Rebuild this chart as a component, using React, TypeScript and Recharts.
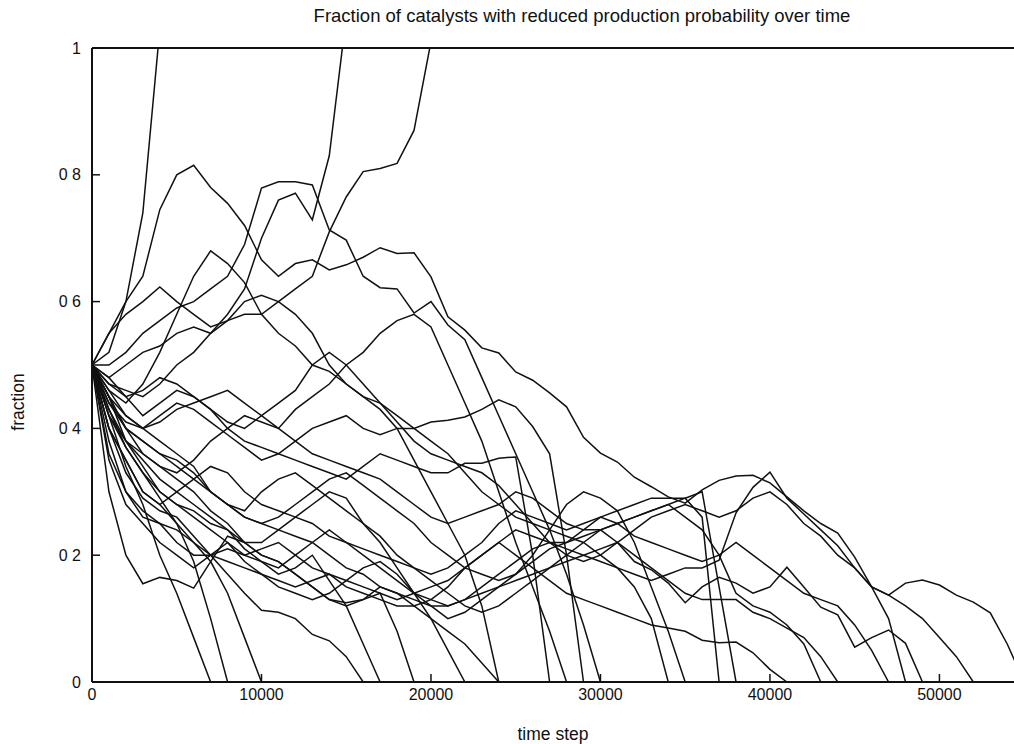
import { LineChart, Line, XAxis, YAxis } from "recharts";

// fraction sampled every 1000 time steps, each run stops when it hits 0 (or leaves the top)
const stepSize = 1000;

const runA = [0.5, 0.52, 0.6, 0.74, 1.03];
const runC = [0.5, 0.47, 0.46, 0.45, 0.47, 0.5, 0.52, 0.55, 0.58, 0.62, 0.7, 0.76, 0.771, 0.729, 0.83, 1.05];
const runD = [0.5, 0.48, 0.5, 0.52, 0.53, 0.55, 0.56, 0.55, 0.57, 0.58, 0.58, 0.6, 0.62, 0.64, 0.71, 0.765, 0.805, 0.81, 0.818, 0.87, 1.01];
const runLong = [
  0.5, 0.55, 0.6, 0.64, 0.745, 0.8, 0.815, 0.78, 0.755, 0.72, 0.666, 0.64, 0.66, 0.666, 0.65, 0.658, 0.67, 0.685,
  0.676, 0.677, 0.639, 0.576, 0.555, 0.527, 0.519, 0.489, 0.476, 0.456, 0.434, 0.386, 0.361, 0.347, 0.323, 0.308,
  0.292, 0.282, 0.303, 0.318, 0.325, 0.326, 0.314, 0.292, 0.27, 0.25, 0.235, 0.197, 0.15, 0.137, 0.156, 0.161,
  0.153, 0.137, 0.126, 0.109, 0.06, 0,
];
const runHump = [
  0.5, 0.5, 0.52, 0.55, 0.57, 0.59, 0.6, 0.62, 0.64, 0.69, 0.779, 0.789, 0.789, 0.784, 0.713, 0.697, 0.64, 0.622,
  0.62, 0.582, 0.6, 0.563, 0.54, 0.48, 0.42, 0.36, 0.3, 0.24, 0.17, 0.09, 0,
];
const run07 = [0.5, 0.42, 0.34, 0.28, 0.2, 0.14, 0.07, 0];
const run08 = [0.5, 0.43, 0.37, 0.33, 0.29, 0.25, 0.19, 0.1, 0];
const run10 = [0.5, 0.4, 0.35, 0.3, 0.28, 0.25, 0.22, 0.19, 0.14, 0.07, 0];
const run16 = [0.5, 0.4, 0.33, 0.29, 0.27, 0.26, 0.23, 0.2, 0.17, 0.14, 0.113, 0.11, 0.1, 0.075, 0.065, 0.04, 0];
const run17 = [0.5, 0.38, 0.3, 0.26, 0.25, 0.22, 0.2, 0.2, 0.21, 0.2, 0.19, 0.17, 0.18, 0.2, 0.16, 0.12, 0.06, 0];
const run19 = [0.5, 0.3, 0.2, 0.155, 0.165, 0.16, 0.148, 0.19, 0.23, 0.22, 0.2, 0.19, 0.17, 0.15, 0.13, 0.125, 0.13, 0.14, 0.08, 0];
const run22 = [0.5, 0.45, 0.38, 0.34, 0.3, 0.28, 0.27, 0.25, 0.24, 0.22, 0.22, 0.24, 0.26, 0.28, 0.3, 0.29, 0.25, 0.22, 0.18, 0.14, 0.1, 0.05, 0];
const run24a = [0.5, 0.55, 0.58, 0.6, 0.623, 0.6, 0.58, 0.56, 0.57, 0.6, 0.61, 0.6, 0.58, 0.55, 0.5, 0.47, 0.45, 0.43, 0.4, 0.35, 0.3, 0.25, 0.2, 0.12, 0];
const run24b = [0.5, 0.42, 0.38, 0.36, 0.34, 0.32, 0.3, 0.27, 0.25, 0.22, 0.2, 0.19, 0.17, 0.15, 0.13, 0.12, 0.13, 0.15, 0.14, 0.12, 0.1, 0.08, 0.06, 0.03, 0];
const run27 = [0.5, 0.48, 0.45, 0.42, 0.44, 0.46, 0.45, 0.43, 0.4, 0.38, 0.37, 0.36, 0.35, 0.34, 0.33, 0.32, 0.34, 0.36, 0.35, 0.34, 0.33, 0.33, 0.345, 0.345, 0.353, 0.355, 0.2, 0];
const run28 = [0.5, 0.45, 0.4, 0.36, 0.34, 0.33, 0.35, 0.38, 0.4, 0.42, 0.41, 0.4, 0.43, 0.45, 0.47, 0.5, 0.52, 0.55, 0.57, 0.58, 0.56, 0.5, 0.44, 0.38, 0.3, 0.22, 0.15, 0.08, 0];
const run29 = [0.5, 0.44, 0.41, 0.4, 0.42, 0.44, 0.43, 0.41, 0.39, 0.37, 0.35, 0.36, 0.38, 0.4, 0.41, 0.42, 0.4, 0.39, 0.4, 0.4, 0.41, 0.413, 0.418, 0.43, 0.445, 0.434, 0.403, 0.36, 0.2, 0];
const run34 = [0.5, 0.46, 0.44, 0.47, 0.52, 0.58, 0.64, 0.68, 0.66, 0.63, 0.58, 0.55, 0.53, 0.5, 0.49, 0.47, 0.45, 0.44, 0.42, 0.4, 0.38, 0.36, 0.33, 0.3, 0.28, 0.26, 0.25, 0.24, 0.23, 0.22, 0.2, 0.18, 0.15, 0.1, 0];
const run35 = [0.5, 0.35, 0.28, 0.25, 0.22, 0.2, 0.18, 0.2, 0.22, 0.19, 0.17, 0.15, 0.14, 0.13, 0.14, 0.16, 0.18, 0.19, 0.17, 0.14, 0.12, 0.1, 0.11, 0.13, 0.15, 0.17, 0.2, 0.24, 0.28, 0.3, 0.29, 0.27, 0.22, 0.15, 0.08, 0];
const run37 = [0.5, 0.44, 0.4, 0.38, 0.36, 0.35, 0.33, 0.3, 0.28, 0.27, 0.3, 0.32, 0.33, 0.31, 0.29, 0.27, 0.25, 0.23, 0.2, 0.18, 0.16, 0.14, 0.12, 0.11, 0.12, 0.14, 0.16, 0.18, 0.2, 0.22, 0.24, 0.25, 0.26, 0.27, 0.28, 0.29, 0.26, 0];
const run38 = [0.5, 0.4, 0.35, 0.3, 0.28, 0.3, 0.32, 0.34, 0.33, 0.3, 0.28, 0.27, 0.26, 0.25, 0.23, 0.22, 0.21, 0.2, 0.19, 0.18, 0.17, 0.18, 0.2, 0.22, 0.25, 0.27, 0.26, 0.25, 0.24, 0.25, 0.26, 0.27, 0.28, 0.29, 0.29, 0.29, 0.3, 0.15, 0];
const run41 = [0.5, 0.42, 0.37, 0.33, 0.3, 0.28, 0.26, 0.24, 0.22, 0.2, 0.21, 0.22, 0.2, 0.18, 0.17, 0.16, 0.15, 0.14, 0.13, 0.14, 0.15, 0.16, 0.18, 0.2, 0.22, 0.2, 0.18, 0.16, 0.14, 0.13, 0.12, 0.11, 0.1, 0.09, 0.085, 0.08, 0.066, 0.062, 0.063, 0.046, 0.02, 0];
const run43 = [0.5, 0.45, 0.42, 0.4, 0.38, 0.36, 0.34, 0.3, 0.28, 0.26, 0.25, 0.26, 0.28, 0.3, 0.32, 0.33, 0.31, 0.29, 0.27, 0.25, 0.22, 0.2, 0.18, 0.17, 0.16, 0.17, 0.19, 0.21, 0.22, 0.23, 0.24, 0.25, 0.26, 0.27, 0.28, 0.26, 0.24, 0.2, 0.14, 0.12, 0.11, 0.09, 0.06, 0];
const run44 = [0.5, 0.43, 0.38, 0.35, 0.32, 0.3, 0.28, 0.26, 0.24, 0.21, 0.19, 0.18, 0.2, 0.22, 0.24, 0.22, 0.2, 0.18, 0.16, 0.14, 0.13, 0.12, 0.13, 0.15, 0.17, 0.19, 0.21, 0.22, 0.2, 0.19, 0.2, 0.22, 0.2, 0.18, 0.16, 0.14, 0.13, 0.13, 0.13, 0.11, 0.1, 0.085, 0.07, 0.04, 0];
const run47 = [0.5, 0.47, 0.45, 0.46, 0.48, 0.47, 0.45, 0.43, 0.41, 0.4, 0.42, 0.44, 0.46, 0.5, 0.52, 0.5, 0.47, 0.44, 0.41, 0.38, 0.36, 0.35, 0.34, 0.33, 0.31, 0.28, 0.25, 0.22, 0.22, 0.24, 0.26, 0.25, 0.23, 0.22, 0.21, 0.2, 0.19, 0.2, 0.22, 0.2, 0.18, 0.16, 0.14, 0.13, 0.12, 0.09, 0.05, 0];
const run48 = [0.5, 0.36, 0.3, 0.27, 0.25, 0.24, 0.22, 0.2, 0.19, 0.18, 0.17, 0.16, 0.15, 0.16, 0.17, 0.15, 0.14, 0.13, 0.12, 0.12, 0.13, 0.15, 0.18, 0.2, 0.22, 0.24, 0.23, 0.22, 0.21, 0.2, 0.19, 0.18, 0.17, 0.16, 0.17, 0.18, 0.18, 0.192, 0.267, 0.307, 0.331, 0.29, 0.265, 0.24, 0.215, 0.18, 0.15, 0.1, 0];
const run49 = [0.5, 0.46, 0.42, 0.4, 0.41, 0.43, 0.44, 0.45, 0.46, 0.44, 0.42, 0.4, 0.38, 0.36, 0.35, 0.34, 0.33, 0.32, 0.3, 0.28, 0.26, 0.25, 0.26, 0.27, 0.28, 0.3, 0.29, 0.27, 0.25, 0.24, 0.24, 0.22, 0.19, 0.177, 0.156, 0.125, 0.15, 0.165, 0.156, 0.14, 0.15, 0.181, 0.15, 0.118, 0.106, 0.055, 0.07, 0.082, 0.061, 0];
const run52 = [0.5, 0.45, 0.4, 0.38, 0.36, 0.34, 0.32, 0.3, 0.28, 0.26, 0.25, 0.24, 0.23, 0.22, 0.2, 0.18, 0.17, 0.15, 0.14, 0.13, 0.12, 0.12, 0.13, 0.14, 0.15, 0.16, 0.17, 0.18, 0.19, 0.2, 0.21, 0.22, 0.24, 0.26, 0.27, 0.28, 0.27, 0.26, 0.27, 0.29, 0.3, 0.28, 0.25, 0.23, 0.2, 0.18, 0.15, 0.137, 0.12, 0.1, 0.07, 0.04, 0];

const runs = [
  runA, runC, runD, runLong, runHump, run07, run08, run10, run16, run17, run19, run22, run24a, run24b,
  run27, run28, run29, run34, run35, run37, run38, run41, run43, run44, run47, run48, run49, run52,
];

const xTicks = [0, 10000, 20000, 30000, 40000, 50000];
const yTicks = [0, 0.2, 0.4, 0.6, 0.8, 1];
const yTickLabels = ["0", "0 2", "0 4", "0 6", "0 8", "1"];

const font = "'Liberation Sans', Arial, Helvetica, sans-serif";
const ink = "#111";

const toPoints = (vals: number[]) => vals.map((v, i) => ({ step: i * stepSize, fraction: v }));

export default function App() {
  return (
    <div style={{ position: "fixed", left: 0, top: 0, width: 1014, height: 744, background: "#fff", fontFamily: font }}>
      <div
        style={{
          position: "absolute",
          top: 5,
          left: 582,
          transform: "translateX(-50%)",
          whiteSpace: "nowrap",
          fontSize: 18.5,
          color: ink,
        }}
      >
        Fraction of catalysts with reduced production probability over time
      </div>
      <div
        style={{
          position: "absolute",
          left: 18,
          top: 402,
          transform: "translate(-50%, -50%) rotate(-90deg)",
          whiteSpace: "nowrap",
          fontSize: 17.5,
          color: ink,
        }}
      >
        fraction
      </div>
      <LineChart width={1014} height={744} margin={{ top: 47, right: 0, bottom: 0, left: 32 }}>
        <XAxis
          type="number"
          dataKey="step"
          domain={[0, 54400]}
          allowDataOverflow
          ticks={xTicks}
          interval={0}
          height={62}
          tickSize={-8}
          tickMargin={15}
          axisLine={{ stroke: ink, strokeWidth: 2 }}
          tickLine={{ stroke: ink, strokeWidth: 1.5 }}
          tick={{ fill: ink, fontSize: 16, fontFamily: font }}
          label={{ value: "time step", position: "insideBottom", offset: 4, fill: ink, fontSize: 17.5, fontFamily: font }}
        />
        <XAxis
          xAxisId="top"
          orientation="top"
          type="number"
          dataKey="step"
          domain={[0, 54400]}
          allowDataOverflow
          ticks={xTicks}
          interval={0}
          height={1}
          tickSize={-8}
          tick={false}
          axisLine={{ stroke: ink, strokeWidth: 2 }}
          tickLine={{ stroke: ink, strokeWidth: 1.5 }}
        />
        <YAxis
          type="number"
          domain={[0, 1]}
          allowDataOverflow
          ticks={yTicks}
          interval={0}
          width={60}
          tickSize={-8}
          tickMargin={19}
          tickFormatter={(v: number) => yTickLabels[yTicks.indexOf(v)] ?? String(v)}
          axisLine={{ stroke: ink, strokeWidth: 2 }}
          tickLine={{ stroke: ink, strokeWidth: 1.5 }}
          tick={{ fill: ink, fontSize: 16, fontFamily: font }}
        />
        {runs.map((vals, i) => (
          <Line
            key={i}
            data={toPoints(vals)}
            dataKey="fraction"
            type="linear"
            stroke={ink}
            strokeWidth={1.5}
            dot={false}
            activeDot={false}
            isAnimationActive={false}
          />
        ))}
      </LineChart>
    </div>
  );
}
